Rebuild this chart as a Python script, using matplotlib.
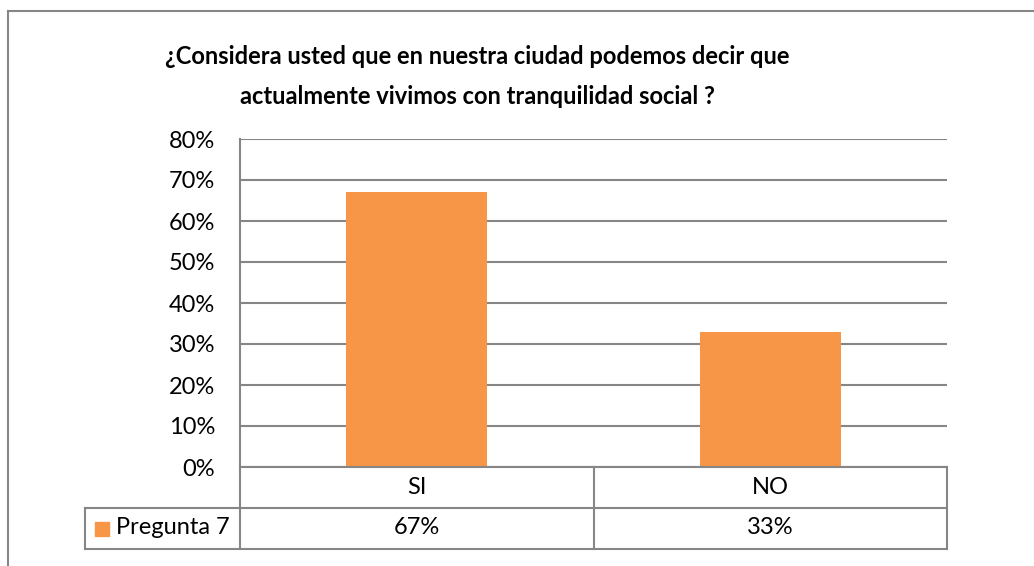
import matplotlib
matplotlib.use("Agg")
import matplotlib.pyplot as plt
from matplotlib.patches import Rectangle
from matplotlib.lines import Line2D

categories = ["SI", "NO"]
values = [0.67, 0.33]
value_labels = ["67%", "33%"]
series_name = "Pregunta 7"
title = "¿Considera usted que en nuestra ciudad podemos decir que\nactualmente vivimos con tranquilidad social ?"
yticks = [0, 0.1, 0.2, 0.3, 0.4, 0.5, 0.6, 0.7, 0.8]

W, H = 1034, 566
BAR = "#F79646"
GRID = "#868686"
FONT = ["Lato", "DejaVu Sans"]
plt.rcParams['font.family'] = FONT
FS = 17

fig = plt.figure(figsize=(W / 100, H / 100), dpi=100)

def fx(px):
    return px / W

def fy(py):
    return 1 - py / H

# outer border
fig.add_artist(Line2D([fx(7.5), fx(1040)], [fy(10.5), fy(10.5)], color=GRID, lw=1.5))
fig.add_artist(Line2D([fx(7.5), fx(7.5)], [fy(10.5), fy(580)], color=GRID, lw=1.5))

L, R, T, B = 240, 947, 139, 467
ax = fig.add_axes([fx(L), fy(B), fx(R) - fx(L), fy(T) - fy(B)])
x = range(len(categories))
ax.bar(x, values, width=0.4, color=BAR, zorder=3)
ax.set_xlim(-0.5, len(categories) - 0.5)
ax.set_ylim(0, 0.8)
ax.set_yticks(yticks)
ax.set_yticklabels([f"{int(round(v * 100))}%" for v in yticks], fontsize=FS)
ax.tick_params(axis='y', length=0, pad=18)
ax.set_xticks([])
for v in yticks:
    ax.axhline(v, color=GRID, lw=1.5, zorder=1)
for s in ["top", "right", "bottom"]:
    ax.spines[s].set_visible(False)
ax.spines["left"].set_color(GRID)
ax.spines["left"].set_linewidth(1.5)

lines = title.split("\n")
fig.text(fx(477), fy(57), lines[0], ha="center", va="center",
         fontsize=FS, fontweight="bold")
fig.text(fx(477), fy(97), lines[1], ha="center", va="center",
         fontsize=FS, fontweight="bold")

# data table
LL = 85
r0, r1, r2 = 467, 507.5, 548.5
n = len(categories)
colw = (R - L) / n
kw = dict(color=GRID, lw=1.5)
fig.add_artist(Line2D([fx(L), fx(R)], [fy(r0), fy(r0)], **kw))
fig.add_artist(Line2D([fx(LL), fx(R)], [fy(r1), fy(r1)], **kw))
fig.add_artist(Line2D([fx(LL), fx(R)], [fy(r2), fy(r2)], **kw))
fig.add_artist(Line2D([fx(LL), fx(LL)], [fy(r1), fy(r2)], **kw))
for i in range(n + 1):
    xx = L + i * colw
    fig.add_artist(Line2D([fx(xx), fx(xx)], [fy(r0), fy(r2)], **kw))
for i, (c, lab) in enumerate(zip(categories, value_labels)):
    cx = L + (i + 0.5) * colw
    fig.text(fx(cx), fy((r0 + r1) / 2), c, ha="center", va="center", fontsize=FS)
    fig.text(fx(cx), fy((r1 + r2) / 2), lab, ha="center", va="center", fontsize=FS)
fig.add_artist(Rectangle((fx(95), fy(536)), fx(14), fy(522) - fy(536), color=BAR))
fig.text(fx(116), fy((r1 + r2) / 2), series_name, ha="left", va="center", fontsize=FS)

fig.savefig("out.png", dpi=100, facecolor="white")
